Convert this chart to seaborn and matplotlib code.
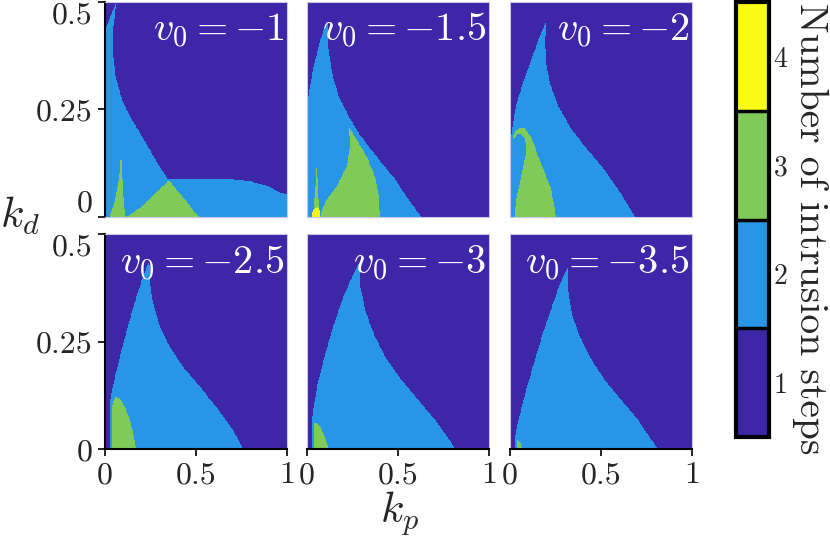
import numpy as np
import seaborn as sns
import matplotlib.pyplot as plt
from matplotlib.path import Path
from matplotlib.colors import ListedColormap


# Data (region outlines, as (kp, kd) points) ...........

v0_values = [-1, -1.5, -2, -2.5, -3, -3.5]
v0_labels = ["-1", "-1.5", "-2", "-2.5", "-3", "-3.5"]

step_levels = [1, 2, 3, 4]
step_colors = ["#3E26A8", "#2896E6", "#80CB58", "#F9FB14"]

# v0 = -1
blue_1 = [(0, 0), (0, 0.435), (0.064, 0.5), (0.046, 0.442), (0.042, 0.388),
          (0.055, 0.334), (0.073, 0.303), (0.10, 0.265), (0.137, 0.234),
          (0.192, 0.195), (0.247, 0.156), (0.298, 0.118), (0.347, 0.087),
          (0.521, 0.088), (0.704, 0.087), (0.795, 0.083), (0.887, 0.073),
          (0.96, 0.057), (1.0, 0.052), (1.0, 0)]
green_1a = [(0.027, 0), (0.055, 0.04), (0.073, 0.079), (0.086, 0.133),
            (0.093, 0.133), (0.097, 0.079), (0.104, 0.025), (0.112, 0)]
green_1b = [(0.119, 0), (0.192, 0.021), (0.351, 0.085), (0.516, 0)]

# v0 = -1.5
blue_2 = [(0, 0), (0, 0.249), (0.013, 0.295), (0.037, 0.35), (0.073, 0.411),
          (0.110, 0.458), (0.119, 0.388), (0.137, 0.334), (0.174, 0.28),
          (0.229, 0.234), (0.283, 0.195), (0.338, 0.164), (0.411, 0.125),
          (0.484, 0.087), (0.558, 0.04), (0.627, 0)]
green_2a = [(0.073, 0), (0.079, 0.013), (0.108, 0.04), (0.163, 0.071),
            (0.218, 0.118), (0.236, 0.164), (0.232, 0.207), (0.272, 0.18),
            (0.327, 0.141), (0.373, 0.095), (0.397, 0.04), (0.40, 0)]
green_2b = [(0.033, 0), (0.046, 0.071), (0.055, 0.145), (0.06, 0.071), (0.069, 0)]
yellow_2 = [(0.024, 0), (0.033, 0.016), (0.059, 0.023), (0.073, 0.013), (0.073, 0)]

# v0 = -2
blue_3 = [(0, 0), (0, 0.133), (0.009, 0.195), (0.027, 0.249), (0.064, 0.303),
          (0.11, 0.357), (0.155, 0.411), (0.201, 0.458), (0.192, 0.411),
          (0.196, 0.365), (0.219, 0.31), (0.265, 0.257), (0.338, 0.203),
          (0.411, 0.164), (0.503, 0.118), (0.594, 0.064), (0.686, 0)]
green_3 = [(0.013, 0.183), (0.027, 0.199), (0.055, 0.207), (0.082, 0.206),
           (0.119, 0.183), (0.155, 0.141), (0.192, 0.102), (0.225, 0.064),
           (0.243, 0.025), (0.25, 0), (0.024, 0), (0.031, 0.033), (0.049, 0.071),
           (0.073, 0.118), (0.09, 0.156), (0.082, 0.18), (0.06, 0.193),
           (0.037, 0.192), (0.02, 0.18)]

# v0 = -2.5
blue_4 = [(0.024, 0), (0.024, 0.06), (0.027, 0.106), (0.042, 0.145),
          (0.073, 0.199), (0.11, 0.261), (0.155, 0.33), (0.201, 0.392),
          (0.243, 0.438), (0.247, 0.384), (0.265, 0.338), (0.302, 0.284),
          (0.356, 0.237), (0.43, 0.191), (0.521, 0.145), (0.612, 0.098),
          (0.704, 0.044), (0.759, 0)]
green_4 = [(0.037, 0), (0.038, 0.075), (0.042, 0.11), (0.06, 0.122),
           (0.082, 0.118), (0.11, 0.098), (0.137, 0.067), (0.155, 0.037), (0.17, 0)]

# v0 = -3
blue_5 = [(0.027, 0), (0.027, 0.06), (0.037, 0.098), (0.055, 0.145),
          (0.091, 0.207), (0.137, 0.276), (0.192, 0.346), (0.247, 0.4),
          (0.287, 0.435), (0.293, 0.377), (0.32, 0.322), (0.366, 0.268),
          (0.43, 0.214), (0.521, 0.16), (0.612, 0.114), (0.704, 0.067),
          (0.795, 0.013), (0.814, 0)]
green_5 = [(0.037, 0), (0.038, 0.06), (0.055, 0.061), (0.073, 0.052),
           (0.097, 0.029), (0.119, 0)]

# v0 = -3.5
blue_6 = [(0.024, 0), (0.027, 0.029), (0.042, 0.06), (0.073, 0.114),
          (0.119, 0.183), (0.174, 0.261), (0.229, 0.33), (0.274, 0.384),
          (0.316, 0.423), (0.32, 0.369), (0.338, 0.315), (0.384, 0.261),
          (0.448, 0.207), (0.521, 0.16), (0.612, 0.114), (0.704, 0.067),
          (0.777, 0.021), (0.814, 0)]
green_6 = [(0.037, 0), (0.04, 0.021), (0.049, 0.02), (0.064, 0.006), (0.068, 0)]

# Regions painted in order for each panel (level, outline)
panel_regions = [
    [(2, blue_1), (3, green_1a), (3, green_1b)],
    [(2, blue_2), (3, green_2a), (3, green_2b), (4, yellow_2)],
    [(2, blue_3), (3, green_3)],
    [(2, blue_4), (3, green_4)],
    [(2, blue_5), (3, green_5)],
    [(2, blue_6), (3, green_6)],
]


# Build grids ...................................................................

n_kp, n_kd = 400, 400
kd_max = 0.5
kp_centers = (np.arange(n_kp) + 0.5) / n_kp
kd_centers = (np.arange(n_kd) + 0.5) / n_kd * kd_max
KP, KD = np.meshgrid(kp_centers, kd_centers)
points = np.column_stack([KP.ravel(), KD.ravel()])

def region_grid(regions):

    grid = np.full(KP.shape, 1.0)
    for level, outline in regions:
        mask = Path(outline).contains_points(points).reshape(KP.shape)
        grid[mask] = level
    return grid


# Plot ..........................................................................

sns.set_theme(style = "ticks")
plt.rcParams["mathtext.fontset"] = "cm"
plt.rcParams["axes.unicode_minus"] = False

fig = plt.figure(figsize = (8.3, 5.37), dpi = 100)
cmap = ListedColormap(step_colors)

lefts = [0.1265, 0.3699, 0.6145]
bottoms = [0.5959, 0.1633]
width, height = 0.2196, 0.401

cax = fig.add_axes([0.887, 0.186, 0.040, 0.81])
tick_font = dict(fontfamily = "cmr10", fontsize = 23)

for i, regions in enumerate(panel_regions):

    row, col = divmod(i, 3)
    ax = fig.add_axes([lefts[col], bottoms[row], width, height])
    grid = region_grid(regions)

    sns.heatmap(grid[::-1], ax = ax, cmap = cmap, vmin = 0.5, vmax = 4.5,
                cbar = (i == 0), cbar_ax = cax if i == 0 else None,
                xticklabels = False, yticklabels = False, rasterized = True)

    ax.text(0.985, 0.96, rf"$v_0 = -{v0_labels[i][1:]}$", transform = ax.transAxes,
            ha = "right", va = "top", color = "white", fontsize = 29)

    # faint frame around each map
    for side in ["top", "right", "left", "bottom"]:
        ax.spines[side].set_visible(True)
        ax.spines[side].set_color("#c9c5e8")
        ax.spines[side].set_linewidth(0.8)

    ax.tick_params(direction = "out", length = 5, width = 1.2, color = "black", pad = 4)
    if col == 0:
        ax.spines["left"].set_color("black")
        ax.spines["left"].set_linewidth(1.5)
        ax.set_yticks([n_kd, n_kd / 2, 0])
        labels = ax.set_yticklabels(["0", "0.25", "0.5"], rotation = 0, **tick_font)
        labels[2].set_va("top")
        if row == 0:
            labels[0].set_va("bottom")
    else:
        ax.set_yticks([])
    if row == 1:
        ax.spines["bottom"].set_color("black")
        ax.spines["bottom"].set_linewidth(1.5)
        ax.set_xticks([0, n_kp / 2, n_kp])
        ax.set_xticklabels(["0", "0.5", "1"], rotation = 0, **tick_font)
    else:
        ax.set_xticks([])

# Colorbar styling
cbar = fig.axes[1].collections[0].colorbar
cbar.set_ticks(step_levels)
cbar.ax.set_yticklabels([str(s) for s in step_levels], fontfamily = "cmr10", fontsize = 20)
cbar.ax.tick_params(length = 0, pad = 3)
cbar.outline.set_visible(True)
cbar.outline.set_edgecolor("black")
cbar.outline.set_linewidth(3)
for b in [1.5, 2.5, 3.5]:
    cbar.ax.axhline(b, color = "black", linewidth = 2.5)
fig.text(0.976, 0.574, "Number of intrusion steps", rotation = 270, fontfamily = "cmr10",
         fontsize = 28.5, ha = "center", va = "center")

# Axis labels
fig.text(0.0, 0.598, r"$k_d$", fontsize = 31, ha = "left", va = "center")
fig.text(0.482, 0.044, r"$k_p$", fontsize = 31, ha = "center", va = "center")

plt.savefig("out.png", dpi = 100)
